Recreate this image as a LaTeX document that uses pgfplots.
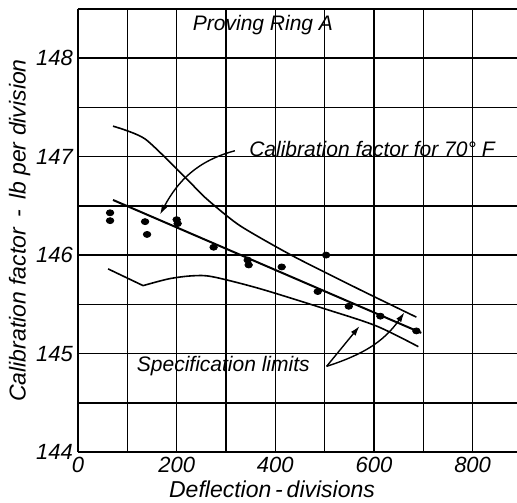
\documentclass[border=0pt]{standalone}
\usepackage{fontspec}
\setmainfont{Liberation Sans}
\usepackage{pgfplots}
\pgfplotsset{compat=1.18}
\usetikzlibrary{arrows.meta}

\begin{document}
\begin{tikzpicture}
\begin{axis}[at={(0,0)},anchor=south west,scale only axis,
 width=219.5pt,height=221.5pt,
 xmin=0,xmax=890,ymin=144,ymax=148.5,
 axis lines*=left,axis line style={line width=1.2pt,-},
 xtick={0,200,...,800},minor xtick={100,300,500,700},
 ytick={144,...,148},minor ytick={144.5,145.5,146.5,147.5,148.5},
 grid=both,grid style={black,line width=0.75pt},
 major tick length=0pt,minor tick length=0pt,
 /pgf/number format/assume math mode=true,
 tick label style={font=\fontsize{11}{13}\selectfont\itshape},
 xticklabel style={yshift=1pt},
 yticklabel style={xshift=1pt},
 label style={font=\fontsize{11.5}{13}\selectfont\itshape},
 xlabel={Deflection\,-\,divisions},
 ylabel={Calibration factor \,-\, lb per division},
 xlabel style={at={(ticklabel cs:0.442)},anchor=north,yshift=3pt},
 ylabel style={yshift=-4pt}]
% upper specification limit
\addplot[black,line width=0.8pt,smooth,tension=0.4] coordinates {
 (71,147.31) (136,147.18) (221,146.77) (261,146.57) (328,146.30)
 (436,145.99) (571,145.65) (686,145.37)};
% lower specification limit
\addplot[black,line width=0.8pt] coordinates {(61,145.86) (132,145.69)};
\addplot[black,line width=0.8pt,smooth,tension=0.5] coordinates {
 (132,145.69) (185,145.76) (233,145.79) (273,145.78) (368,145.66)
 (503,145.45) (605,145.28) (690,145.07)};
% calibration factor for 70 F
\addplot[black,line width=1pt] coordinates {(71,146.56) (696,145.21)};
% observed points
\addplot[only marks,mark=*,mark size=1.5pt,mark options={xscale=1.25}] coordinates {
 (65,146.43) (65,146.35) (136,146.34) (140,146.21) (200,146.36) (202,146.32)
 (275,146.08) (344,145.95) (346,145.90) (413,145.88) (503,146.00)
 (486,145.63) (549,145.48) (613,145.38) (686,145.23)};
% annotations
\node[font=\fontsize{10.5}{12}\selectfont\itshape] at (axis cs:375,148.34) {Proving Ring A};
\node[anchor=west,font=\fontsize{10.5}{12}\selectfont\itshape] at (axis cs:333,147.08) {Calibration factor for 70° F};
\draw[line width=0.7pt,-{Latex[length=5pt,width=3pt]}] (axis cs:318,147.06) to[out=195,in=62] (axis cs:166,146.41);
\node[anchor=east,font=\fontsize{10.5}{12}\selectfont\itshape] at (axis cs:484,144.87) {Specification limits};
\draw[line width=0.7pt,-{Latex[length=5pt,width=3pt]}] (axis cs:504,144.87) -- (axis cs:571,145.28);
\draw[line width=0.7pt,-{Latex[length=5pt,width=3pt]}] (axis cs:504,144.87) to[out=18,in=235] (axis cs:662,145.42);
\draw[line width=1.2pt] (rel axis cs:0,1) -- (rel axis cs:1,1);
\end{axis}
\pgfresetboundingbox
\path (-39pt,-25pt) rectangle (219.5pt,226pt);
\end{tikzpicture}
\end{document}
